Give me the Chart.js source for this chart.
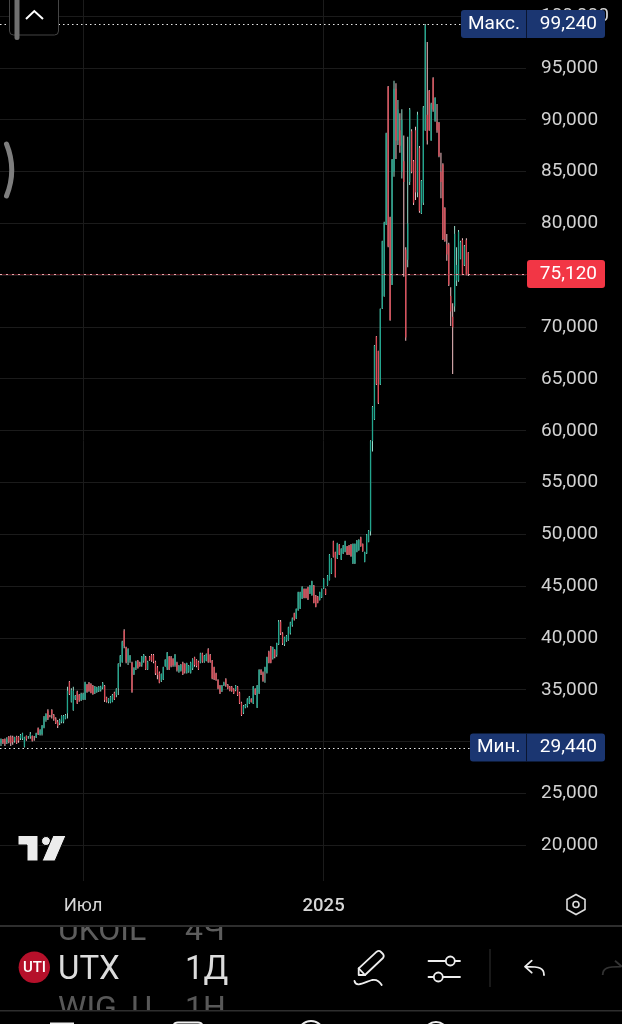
<!DOCTYPE html>
<html lang="ru"><head><meta charset="utf-8"><title>UTX</title>
<script src="https://cdn.jsdelivr.net/npm/chart.js@4/dist/chart.umd.min.js"></script>
<style>
html,body{margin:0;padding:0;background:#000;width:622px;height:1024px;overflow:hidden;font-family:Roboto,sans-serif}
#c{position:absolute;left:0;top:0}
.o{position:absolute;left:0;top:0;pointer-events:none}
.t{position:absolute;white-space:nowrap;line-height:1;font-family:Roboto,sans-serif}
.clip{position:absolute;overflow:hidden;left:0;width:300px}
</style></head><body>
<canvas id="c" width="622" height="925"></canvas>
<svg class="o" width="622" height="1024" viewBox="0 0 622 1024">
 <rect x="9.5" y="-10" width="49" height="45" rx="4" fill="#000" stroke="#454545"/>
 <rect x="14.5" y="-5" width="5" height="45" rx="2.5" fill="#6f6f6f"/>
 <polyline points="26,19 34.3,11 43,19" fill="none" stroke="#fff" stroke-width="2"/>
 <path d="M6.5 144 Q17 170 6.5 196" fill="none" stroke="#7e7e7e" stroke-width="5" stroke-linecap="round"/>
 <g fill="#ececec" stroke="#000" stroke-width="1">
  <path d="M18 835.500H38V861H27V845H18Z"/><circle cx="46" cy="841" r="4.500"/><path d="M53 835.500H66L55 861H42Z"/>
 </g>
 <path d="M576 894.500L585 899.500V909.500L576 914.500L567 909.500V899.500Z" fill="none" stroke="#ddd" stroke-width="1.600"/>
 <circle cx="576" cy="904.500" r="3" fill="none" stroke="#ddd" stroke-width="1.600"/>
 <rect x="0" y="925" width="622" height="2" fill="#2e2e2e"/>
 <rect x="0" y="1010" width="622" height="1.500" fill="#2e2e2e"/>
 <circle cx="34.300" cy="967.300" r="15.700" fill="#b5102a"/>
 <g fill="none" stroke="#eee" stroke-width="1.800" stroke-linecap="round" stroke-linejoin="round">
  <path d="M358.700 968.300L376.700 951.700Q379 950 381 952L383 954Q384.500 956 383 958L365 975H358.700Z"/><path d="M358.700 968.300L365 975"/>
  <path d="M354.500 981C356 988 365 982 372 980C377 979 380 982 381.700 985"/>
  <path d="M428.500 961H445.500M455 961H460M428.500 977H433.500M443 977H460"/>
  <circle cx="450.300" cy="961" r="4.500"/><circle cx="438.300" cy="977" r="4.500"/>
  <path d="M544 975C544 968 540 966.700 526 966.700M531.700 960.700L525 966.700L531.700 972.700"/>
 </g>
 <rect x="489.500" y="949" width="1" height="38" fill="#333"/>
 <path d="M602.700 975C602.700 968 607 966.700 621 966.700M615 960.700L622 966.700" fill="none" stroke="#333" stroke-width="1.800"/>
 <g fill="none" stroke="#eee" stroke-width="2">
  <path d="M50 1023.500H74"/><path d="M174 1028V1025Q174 1022.500 178 1022.500H198Q202 1022.500 202 1025V1028"/>
  <circle cx="311" cy="1034" r="13"/><circle cx="436" cy="1034" r="12"/>
 </g>
</svg>
<div class="clip" style="top:927px;height:15px;opacity:.42"><span class="t" style="left:58px;top:-14px;font-size:32px;color:#ddd">UKOIL</span><span class="t" style="left:185px;top:-14px;font-size:32px;color:#ddd">4Ч</span></div>
<div class="t" style="left:58px;top:951px;font-size:33px;color:#dcdcdc">UTX</div>
<div class="t" style="left:185px;top:951px;font-size:33px;color:#dcdcdc">1Д</div>
<div class="t" style="left:21.500px;top:959.500px;font-size:15px;font-weight:500;color:#fff;width:26px;text-align:center">UTI</div>
<div class="clip" style="top:992px;height:18px;opacity:.4"><span class="t" style="left:58px;top:-1px;font-size:32px;color:#ddd">WIG_U</span><span class="t" style="left:185px;top:-1px;font-size:32px;color:#ddd">1H</span></div>
<script>
const opens=[29850,30240,30240,30010,30490,30490,30430,30110,30490,30490,30330,30300,29530,30560,30430,30490,30560,30490,30430,31300,30700,30750,31390,32100,33000,32490,33070,32580,32260,31940,31780,31940,31940,32230,32750,35800,33870,33070,34160,34840,34510,34030,34100,34100,35480,35640,35570,35380,34740,34840,34930,35000,35250,35380,34290,33870,33780,33870,34740,34510,35160,37500,37730,40720,39110,37730,37890,37630,36540,37090,37830,37630,37410,37830,38150,36990,38210,38370,38370,37730,37180,36670,35900,36030,37310,37090,38210,38150,37960,37410,37630,36770,36860,37630,37500,36670,36770,36670,37090,38150,37890,37730,37630,38530,37730,37830,38920,38370,37830,37180,36600,35960,35380,34930,35480,36030,35480,35320,35320,35060,35000,35320,34740,33780,32810,33320,33450,33710,34100,33710,35060,33320,34740,36930,36670,36770,36670,38690,39180,38050,38860,38370,39430,41590,40460,39400,39760,39820,40460,41270,42390,41910,42710,42870,43840,44740,44740,44900,44320,44160,45060,44100,44000,43680,43940,44800,44740,45120,45610,46250,49340,48280,47700,49020,47600,48180,48340,48830,48920,49020,47220,47220,48340,48500,49720,49080,47380,48180,49300,50300,59000,61100,69100,67700,64500,71810,73000,79900,93200,80600,74100,85000,93000,88000,89000,85000,86000,77500,76500,84000,88900,86000,89000,83000,87300,81000,82000,89000,90500,92800,88000,94000,89900,89800,89700,85000,85700,81500,78000,78000,73000,71000,72000,74500,74500,76600,78400,76000,78400,77200];
const highs=[30330,30270,30330,30430,30560,30620,30590,30490,30590,30560,30750,30880,30490,30620,30560,30940,30620,30560,30880,31390,31200,31620,32490,32750,33130,32580,33130,32680,32360,32100,32230,32550,32580,32680,35320,35860,35160,35320,34510,34930,34610,34740,34740,35800,35570,35770,35640,35480,35380,35320,35380,35400,35770,35480,34350,34190,34420,34610,34840,35160,37570,38370,39760,40850,39180,39020,38370,37730,37180,37830,37890,37730,38280,38470,38280,37830,38280,38470,38470,37830,37310,36770,36600,37250,37960,38660,38280,38280,38050,38470,37730,37410,37500,37730,37570,37630,37410,37730,38050,38210,37960,37830,38600,38600,38370,38530,39020,38470,37890,37250,36670,36030,35480,35480,35800,36120,35570,35380,35380,35160,35480,35380,34840,33870,33550,33650,34190,34420,34190,35380,35160,35480,36990,36990,36770,37250,38210,38790,39240,39180,38920,39560,41750,41750,40560,40140,40300,41110,41590,42000,42450,42870,44480,44480,45000,44800,44800,44960,45120,45540,45120,44160,44060,44480,44800,45770,44800,46090,48120,47700,49400,48340,49210,49080,48660,48980,49400,48890,48980,49080,49140,49140,49470,49530,49790,49140,48340,50050,50430,59100,62390,68280,69140,67730,71810,78340,80170,88760,93260,80660,86220,93780,93520,91910,90630,91010,88500,77700,88370,91140,89080,86120,89340,90780,87470,84190,91330,99240,97510,92880,91650,94100,92170,91530,89790,86830,85800,81560,78980,78150,73840,72300,79760,77700,79370,78340,78570,77920,78570,77250];
const lows=[29590,29790,29590,29790,29850,29590,29720,29920,29790,29920,30170,30170,29460,30110,30300,30300,30040,30110,30360,30650,30600,30620,31300,31940,32100,32360,32260,32040,31720,31330,31620,31780,31780,32170,32260,34510,33780,33000,34030,33650,33870,33940,34030,34030,34740,34840,34680,34550,34610,34740,34800,34850,35060,33840,33780,33710,33710,33810,34030,34290,34510,37250,37630,39020,37570,37410,37630,34740,36440,36930,37060,37250,37250,37630,36930,36930,37830,37730,37570,36440,36030,35640,35770,35960,37250,36930,36930,37180,37250,37250,36770,36670,36770,36440,36600,36600,36670,36600,36930,37250,37180,36930,37570,37630,37630,37760,37630,37630,36030,35960,35900,35060,34610,34800,35380,35320,35060,34870,34840,34610,34870,34420,33650,32490,32680,33230,33320,33650,33780,33650,34510,33260,34610,36440,35800,35700,36600,37570,37570,37950,38050,38210,39340,40300,39340,39240,39660,39760,40360,41100,41700,41850,42650,42800,43780,43840,43840,43680,44260,44100,43360,42970,43360,43620,43880,44740,44160,45060,45550,46190,47790,45860,47640,48020,47540,48120,48280,48020,48020,47860,47160,47160,48280,48440,48820,48340,47320,48120,49240,49900,58000,61040,64420,62590,64420,71750,72940,79850,77700,70620,74060,84500,86220,87570,86830,84350,74870,68690,75770,83710,84840,81780,82270,82520,81040,80910,81780,88950,87630,88950,87990,90780,89820,88760,86380,82430,78410,78250,76410,73970,70110,65480,71490,73970,74390,76540,75030,75900,75000,74930];
const closes=[30240,29920,29790,30240,30010,29850,29980,30430,29850,30110,30650,30820,30430,30240,30490,30750,30110,30430,30820,30750,31100,31520,32360,32680,32260,32420,32580,32170,31780,31520,32100,32490,32490,32580,34930,34610,35000,34930,34420,33710,34030,34610,34610,35740,34840,34930,34740,34610,35320,35250,35320,35300,35640,34030,33870,34160,34350,34510,34100,35060,37500,38280,39660,39240,37730,38920,38280,34840,37090,37730,37090,37310,38210,38370,36990,37730,37890,37830,37730,36600,36440,35700,36540,37180,37890,38600,36990,37310,37410,38370,36930,37310,37410,36540,36770,37570,37310,37630,37960,37410,37310,36990,38530,37730,38280,38470,37730,37730,36120,36030,35960,35160,34740,35410,35700,35480,35160,34930,34930,34680,35410,34510,33710,32580,33450,33580,34100,34350,33840,35320,34610,35410,36930,36600,35900,37180,38150,37630,37630,39110,38210,39500,41590,40460,39500,40080,40230,41040,41520,41900,41800,42800,44420,44420,44900,43900,43900,43740,45060,45480,43420,43030,43420,44420,44740,45700,44220,46030,48060,47640,47850,45920,49150,48080,48600,48920,49340,48080,48080,47920,49080,49080,49400,49470,48880,48400,48280,49980,50370,59000,62300,68200,64500,62700,71750,78280,80100,88700,77800,70700,86150,93000,88000,91000,87500,90000,84000,69000,80000,91000,85000,82000,83000,90500,81200,84100,91200,99100,88000,89000,91500,91000,92100,89000,86500,84000,78500,78300,77000,74100,71500,70000,79000,76000,79200,78200,75100,77800,75100,75120];
const slotCount=269;
const xLabels=Array.from({length:slotCount},()=>'');
xLabels[42]='Июл';xLabels[165]='2025';
const yTicks=[20000,25000,30000,35000,40000,45000,50000,55000,60000,65000,70000,75000,80000,85000,90000,95000,100000];
const maxPrice=99240,minPrice=29440,lastPrice=75120;
const axisMax=101560,axisMin=16572;
const fmt=v=>v.toLocaleString('en-US');
const wickData=highs.map((h,i)=>[lows[i],h]);
const bodyData=opens.map((o,i)=>[Math.min(o,closes[i]),Math.max(o,closes[i])]);
const UP='#22a58d',DOWN='#dc4a56',UPW='#97dccb',DOWNW='#f6c2c6';
const isUp=i=>closes[i]>=opens[i];
const badges={id:'badges',afterDraw(ch){
 const c=ch.ctx,y=ch.scales.y,R=527;
 const px=v=>Math.round(y.getPixelForValue(v))+.5;
 c.save();
 c.lineWidth=1;
 c.strokeStyle='#e8e8e8';c.setLineDash([1.5,3]);
 c.beginPath();c.moveTo(0,px(maxPrice));c.lineTo(461,px(maxPrice));c.moveTo(0,px(minPrice));c.lineTo(470,px(minPrice));c.stroke();
 const ly=px(lastPrice);
 c.setLineDash([]);c.strokeStyle='rgba(170,40,55,.5)';c.beginPath();c.moveTo(0,ly);c.lineTo(R,ly);c.stroke();
 c.setLineDash([2,4]);c.strokeStyle='#e9a9ad';c.beginPath();c.moveTo(0,ly);c.lineTo(R,ly);c.stroke();
 c.setLineDash([]);
 const box=(x0,x1,cy,col)=>{c.fillStyle=col;c.beginPath();c.roundRect(x0,cy-14,x1-x0,28,3);c.fill();};
 const txt=(s,x,cy,al)=>{c.fillStyle='#fff';c.font='19px Roboto';c.textAlign=al;c.textBaseline='middle';c.fillText(s,x,cy);};
 const navy='#1b3671';
 let cy=y.getPixelForValue(maxPrice);
 box(461,605,cy,navy);c.fillStyle='#0a1530';c.fillRect(526,cy-14,1,28);
 txt('Макс.',468,cy,'left');txt(fmt(maxPrice),597,cy,'right');
 cy=y.getPixelForValue(minPrice);
 box(470,605,cy,navy);c.fillStyle='#0a1530';c.fillRect(526,cy-14,1,28);
 txt('Мин.',477,cy,'left');txt(fmt(minPrice),597,cy,'right');
 cy=y.getPixelForValue(lastPrice);
 box(527,605,cy,'#f23645');txt(fmt(lastPrice),597,cy,'right');
 c.restore();
}};
new Chart(document.getElementById('c'),{
 type:'bar',
 data:{labels:xLabels,datasets:[
  {data:wickData,backgroundColor:wickData.map((_,i)=>isUp(i)?UPW:DOWNW),barThickness:1,inflateAmount:0,borderWidth:0,grouped:false,order:2},
  {data:bodyData,backgroundColor:bodyData.map((_,i)=>isUp(i)?UP:DOWN),barThickness:1.3,inflateAmount:0,borderWidth:0,grouped:false,order:1}
 ]},
 plugins:[badges],
 options:{responsive:false,animation:false,devicePixelRatio:1,
  layout:{padding:0},
  plugins:{legend:{display:false},tooltip:{enabled:false},title:{display:false}},
  scales:{
   x:{type:'category',offset:true,border:{display:false},
    afterBuildTicks(s){s.ticks=xLabels.map((l,i)=>({value:i,label:l})).filter(t=>t.label);},
    afterFit(s){s.height=44;s.paddingLeft=0;s.paddingRight=0;},
    grid:{color:'#1b1b1b',drawTicks:false,offset:false},
    ticks:{autoSkip:false,maxRotation:0,padding:14,color:'#d6d6d6',
     font:ctx=>({family:'Roboto',size:18.5,weight:ctx.tick&&ctx.tick.label==='2025'?'500':'400'}),
     callback(v){return xLabels[v];}}},
   y:{type:'linear',position:'right',min:axisMin,max:axisMax,border:{display:false},
    afterBuildTicks(s){s.ticks=yTicks.map(v=>({value:v}));},
    afterFit(s){s.width=96;s.paddingTop=0;s.paddingBottom=0;},
    grid:{color:'#1b1b1b',drawTicks:false},
    ticks:{padding:15,color:'#d2d2d2',font:{family:'Roboto',size:19},
     callback(v){return fmt(v);}}}
  }
 }
});
</script>
</body></html>
